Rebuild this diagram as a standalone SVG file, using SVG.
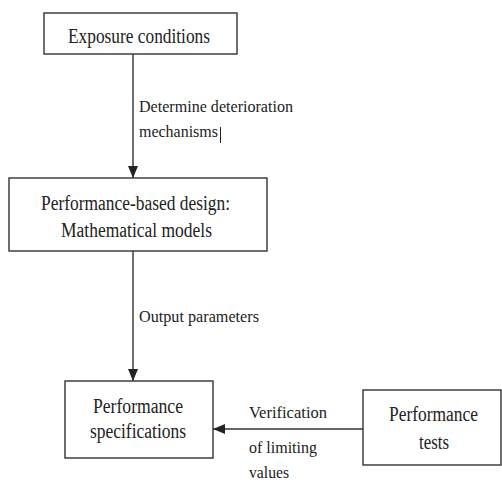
<svg xmlns="http://www.w3.org/2000/svg" width="502" height="484" viewBox="0 0 502 484">
<style>
.b{fill:#fff;stroke:#333;stroke-width:1.4}
text{fill:#222}
.n{font-size:20px}
.l{font-size:17px}
.c{stroke:#333;stroke-width:1.4;fill:none}
</style>
<defs>
<marker id="ah" viewBox="0 0 12 10" refX="12" refY="5" markerWidth="12" markerHeight="10" markerUnits="userSpaceOnUse" orient="auto">
<path d="M0,0 L12,5 L0,10 Z" fill="#222"/>
</marker>
</defs>
<rect width="502" height="484" fill="#fff"/>
<g font-family="Times New Roman, Liberation Serif, DejaVu Serif, serif">
<g id="connectors">
<line class="c" x1="133" y1="54" x2="133" y2="178" marker-end="url(#ah)"/>
<line class="c" x1="133" y1="251" x2="133" y2="381" marker-end="url(#ah)"/>
<line class="c" x1="363" y1="429" x2="213" y2="429" marker-end="url(#ah)"/>
<text class="l" x="139" y="112" textLength="154" lengthAdjust="spacingAndGlyphs">Determine deterioration</text>
<text class="l" x="139" y="137" textLength="79" lengthAdjust="spacingAndGlyphs">mechanisms</text>
<line x1="220.5" y1="127" x2="220.5" y2="143" stroke="#222" stroke-width="1"/>
<text class="l" x="139" y="322" textLength="120" lengthAdjust="spacingAndGlyphs">Output parameters</text>
<text class="l" x="249" y="418" textLength="78" lengthAdjust="spacingAndGlyphs">Verification</text>
<text class="l" x="249" y="453" textLength="68" lengthAdjust="spacingAndGlyphs">of limiting</text>
<text class="l" x="249" y="478" textLength="40" lengthAdjust="spacingAndGlyphs">values</text>
</g>
<g id="exposure">
<rect class="b" x="44" y="13" width="193" height="41"/>
<text class="n" x="68" y="43" textLength="142" lengthAdjust="spacingAndGlyphs">Exposure conditions</text>
</g>
<g id="design">
<rect class="b" x="9" y="178" width="258" height="73"/>
<text class="n" x="41" y="210" textLength="189" lengthAdjust="spacingAndGlyphs">Performance-based design:</text>
<text class="n" x="61" y="237" textLength="151" lengthAdjust="spacingAndGlyphs">Mathematical models</text>
</g>
<g id="specs">
<rect class="b" x="65" y="381" width="148" height="77"/>
<text class="n" x="93" y="413" textLength="90" lengthAdjust="spacingAndGlyphs">Performance</text>
<text class="n" x="90" y="438" textLength="96" lengthAdjust="spacingAndGlyphs">specifications</text>
</g>
<g id="tests">
<rect class="b" x="363" y="390" width="138" height="75"/>
<text class="n" x="389" y="421" textLength="89" lengthAdjust="spacingAndGlyphs">Performance</text>
<text class="n" x="419" y="449" textLength="30" lengthAdjust="spacingAndGlyphs">tests</text>
</g>
</g>
</svg>
